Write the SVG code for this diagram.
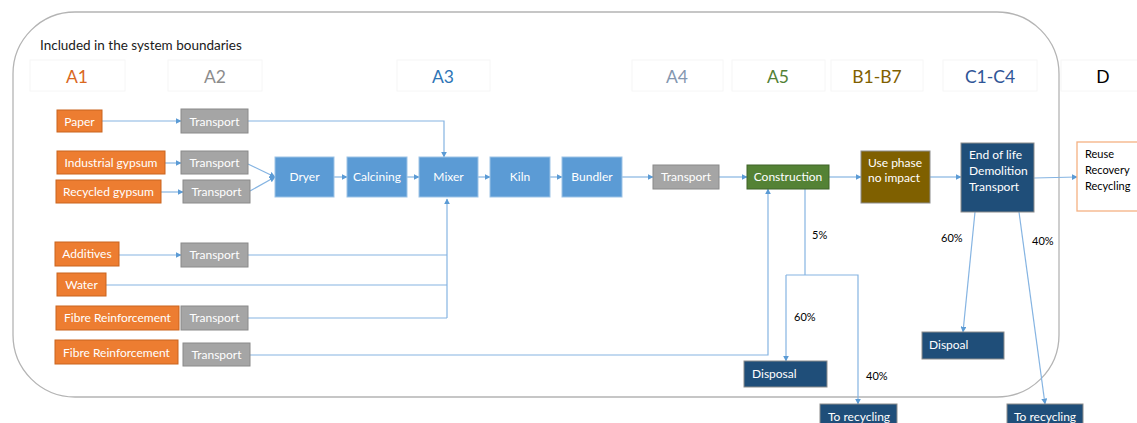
<svg xmlns="http://www.w3.org/2000/svg" width="1137" height="423" viewBox="0 0 1137 423">
  <style>
    text { font-family: Lato, "Open Sans", "Liberation Sans", sans-serif; }
    .hdr { fill: #ffffff; stroke: #f6f6f6; stroke-width: 1; }
    .hl { font-size: 17.5px; text-anchor: middle; }
    .org { fill: #ED7D31; stroke: #C9651F; stroke-width: 1; }
    .gry { fill: #A5A5A5; stroke: #8A8A8A; stroke-width: 1; }
    .blu { fill: #5B9BD5; stroke: #9DC3E6; stroke-width: 1; }
    .grn { fill: #548235; stroke: #3F6228; stroke-width: 1; }
    .brn { fill: #7F6000; stroke: #8C8C8C; stroke-width: 1; }
    .nvy { fill: #1F4E79; stroke: #8C8C8C; stroke-width: 1; }
    .wt { fill: #ffffff; font-size: 12px; text-anchor: middle; }
    .wl { fill: #ffffff; font-size: 12px; }
    .bk { fill: #000000; font-size: 11px; }
    .cn { fill: none; stroke: #85B4E2; stroke-width: 1.2; }
    .ar { marker-end: url(#ah); }
  </style>
  <defs>
    <marker id="ah" viewBox="0 0 10 10" refX="9" refY="5" markerWidth="6" markerHeight="6" markerUnits="userSpaceOnUse" orient="auto">
      <path d="M0,0 L10,5 L0,10 z" fill="#5B9BD5"/>
    </marker>
  </defs>

  <!-- system boundary -->
  <rect id="boundary" x="13" y="12" width="1046" height="385" rx="62" ry="62" fill="none" stroke="#B4B4B4" stroke-width="1.3"/>
  <text x="40" y="50" font-size="13.5" fill="#1a1a1a">Included in the system boundaries</text>

  <!-- stage headers -->
  <g id="headers">
    <rect class="hdr" x="30" y="60" width="95" height="31"/>
    <text class="hl" x="77" y="83" fill="#D9681E">A1</text>
    <rect class="hdr" x="168" y="60" width="94" height="31"/>
    <text class="hl" x="215" y="83" fill="#8C8C8C">A2</text>
    <rect class="hdr" x="397" y="60" width="93" height="31"/>
    <text class="hl" x="443" y="83" fill="#2E75B6">A3</text>
    <rect class="hdr" x="632" y="60" width="91" height="31"/>
    <text class="hl" x="677" y="83" fill="#8497B0">A4</text>
    <rect class="hdr" x="732" y="60" width="93" height="31"/>
    <text class="hl" x="778" y="83" fill="#538135">A5</text>
    <rect class="hdr" x="831" y="60" width="92" height="31"/>
    <text class="hl" x="877" y="83" fill="#7F6000">B1-B7</text>
    <rect class="hdr" x="943" y="60" width="94" height="31"/>
    <text class="hl" x="990" y="83" fill="#2F5597">C1-C4</text>
    <rect class="hdr" x="1061" y="60" width="80" height="31"/>
    <text class="hl" x="1103" y="83" fill="#000000">D</text>
  </g>

  <!-- connectors -->
  <g id="connectors">
    <path class="cn ar" d="M102,121 H181"/>
    <path class="cn ar" d="M248,121 H444 V157"/>
    <path class="cn ar" d="M165,163 H181"/>
    <path class="cn ar" d="M161,192 H183"/>
    <path class="cn ar" d="M248,164 L275,177"/>
    <path class="cn ar" d="M250,191 L275,177"/>
    <path class="cn ar" d="M334,177 H347"/>
    <path class="cn ar" d="M407,177 H419"/>
    <path class="cn ar" d="M478,177 H490"/>
    <path class="cn ar" d="M550,177 H562"/>
    <path class="cn ar" d="M622,177 H653"/>
    <path class="cn ar" d="M719,177 H747"/>
    <path class="cn ar" d="M829,177 H861"/>
    <path class="cn ar" d="M930,177 H961"/>
    <path class="cn ar" d="M1034,178 L1077,177"/>
    <path class="cn ar" d="M119,255 H181"/>
    <path class="cn" d="M248,255 H447"/>
    <path class="cn" d="M106,285 H447"/>
    <path class="cn" d="M248,318 H447"/>
    <path class="cn ar" d="M447,318 V199"/>
    <path class="cn ar" d="M250,355 H768 V189"/>
    <path class="cn" d="M805,189 V275"/>
    <path class="cn ar" d="M786,275 H858 V404"/>
    <path class="cn ar" d="M786,275 V361"/>
    <path class="cn ar" d="M975,212 L963,332"/>
    <path class="cn ar" d="M1019,212 L1045,404"/>
  </g>
  <g id="shares">
    <text class="bk" x="812" y="239">5%</text>
    <text class="bk" x="794" y="321">60%</text>
    <text class="bk" x="866" y="380">40%</text>
    <text class="bk" x="941" y="242">60%</text>
    <text class="bk" x="1032" y="245">40%</text>
  </g>

  <!-- A1 raw materials -->
  <g id="paper"><rect class="org" x="57" y="110" width="45" height="22"/><text class="wt" x="79.5" y="125.5">Paper</text></g>
  <g id="industrial-gypsum"><rect class="org" x="57" y="151" width="108" height="23"/><text class="wt" x="111" y="167">Industrial gypsum</text></g>
  <g id="recycled-gypsum"><rect class="org" x="56" y="180" width="105" height="23"/><text class="wt" x="108.5" y="196">Recycled gypsum</text></g>
  <g id="additives"><rect class="org" x="55" y="242" width="64" height="24"/><text class="wt" x="87" y="258">Additives</text></g>
  <g id="water"><rect class="org" x="57" y="273" width="49" height="23"/><text class="wt" x="81.5" y="289">Water</text></g>
  <g id="fibre-1"><rect class="org" x="56" y="306" width="123" height="24"/><text class="wt" x="117.5" y="322">Fibre Reinforcement</text></g>
  <g id="fibre-2"><rect class="org" x="55" y="340" width="123" height="24"/><text class="wt" x="116.5" y="357">Fibre Reinforcement</text></g>

  <!-- A2 transport -->
  <g id="transport-paper"><rect class="gry" x="181" y="109" width="67" height="24"/><text class="wt" x="214.5" y="125.5">Transport</text></g>
  <g id="transport-industrial"><rect class="gry" x="181" y="151" width="67" height="23"/><text class="wt" x="214.5" y="167">Transport</text></g>
  <g id="transport-recycled"><rect class="gry" x="183" y="180" width="67" height="23"/><text class="wt" x="216.5" y="196">Transport</text></g>
  <g id="transport-additives"><rect class="gry" x="181" y="243" width="67" height="24"/><text class="wt" x="214.5" y="259">Transport</text></g>
  <g id="transport-fibre-1"><rect class="gry" x="181" y="306" width="67" height="24"/><text class="wt" x="214.5" y="322">Transport</text></g>
  <g id="transport-fibre-2"><rect class="gry" x="183" y="343" width="67" height="23"/><text class="wt" x="216.5" y="359">Transport</text></g>

  <!-- A3 production -->
  <g id="dryer"><rect class="blu" x="275" y="157" width="59" height="40"/><text class="wt" x="304.5" y="181">Dryer</text></g>
  <g id="calcining"><rect class="blu" x="347" y="157" width="60" height="40"/><text class="wt" x="377" y="181">Calcining</text></g>
  <g id="mixer"><rect class="blu" x="419" y="157" width="59" height="40"/><text class="wt" x="448.5" y="181">Mixer</text></g>
  <g id="kiln"><rect class="blu" x="490" y="157" width="60" height="40"/><text class="wt" x="520" y="181">Kiln</text></g>
  <g id="bundler"><rect class="blu" x="562" y="157" width="60" height="40"/><text class="wt" x="592" y="181">Bundler</text></g>

  <!-- A4 / A5 / B / C / D -->
  <g id="transport-site"><rect class="gry" x="653" y="165" width="66" height="24"/><text class="wt" x="686" y="181">Transport</text></g>
  <g id="construction"><rect class="grn" x="747" y="165" width="82" height="24"/><text class="wt" x="788" y="181">Construction</text></g>
  <g id="use-phase"><rect class="brn" x="861" y="151" width="69" height="52"/>
    <text class="wl" x="868" y="167" font-size="12.5">Use phase</text><text class="wl" x="868" y="182" font-size="11">no impact</text></g>
  <g id="end-of-life"><rect class="nvy" x="961" y="143" width="73" height="69"/>
    <text class="wl" x="969" y="159">End of life</text><text class="wl" x="969" y="175">Demolition</text><text class="wl" x="969" y="191">Transport</text></g>
  <g id="reuse"><rect x="1077" y="142" width="70" height="69" fill="#ffffff" stroke="#F4B183" stroke-width="1.3"/>
    <text x="1085" y="158" font-size="11" fill="#000">Reuse</text><text x="1085" y="174" font-size="11" fill="#000">Recovery</text><text x="1085" y="190" font-size="11" fill="#000">Recycling</text></g>

  <!-- waste routes -->
  <g id="disposal"><rect class="nvy" x="744" y="361" width="83" height="26"/><text class="wl" x="752" y="378">Disposal</text></g>
  <g id="recycling-1"><rect class="nvy" x="820" y="404" width="77" height="26"/><text class="wl" x="828" y="421">To recycling</text></g>
  <g id="dispoal"><rect class="nvy" x="922" y="332" width="82" height="27"/><text class="wl" x="929" y="349">Dispoal</text></g>
  <g id="recycling-2"><rect class="nvy" x="1007" y="404" width="76" height="26"/><text class="wl" x="1014" y="421">To recycling</text></g>
</svg>
